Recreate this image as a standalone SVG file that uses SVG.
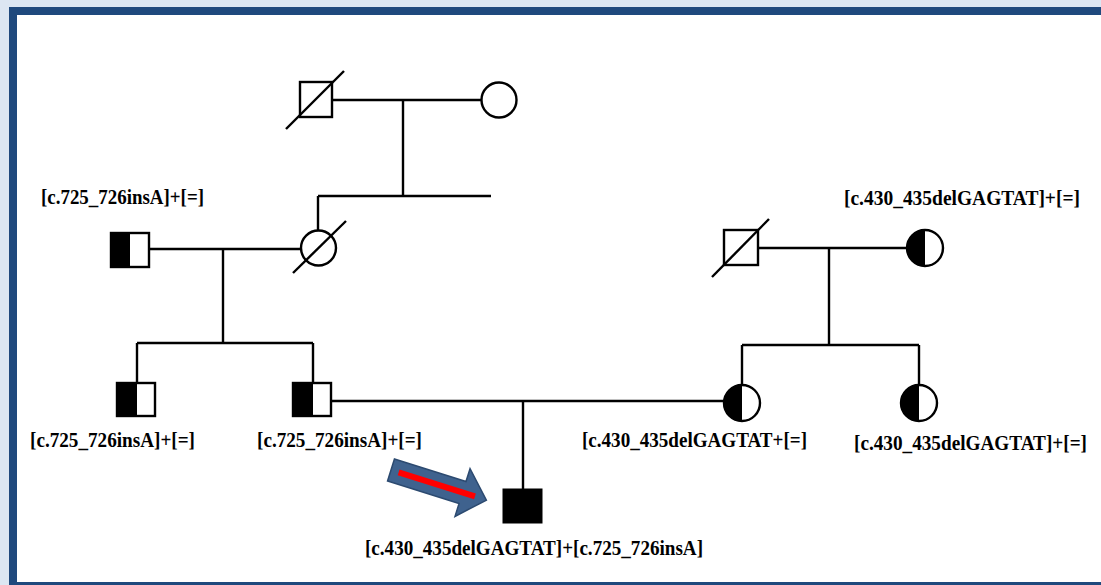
<svg xmlns="http://www.w3.org/2000/svg" width="1101" height="585" viewBox="0 0 1101 585">
<defs>
<style>
.ln{stroke:#000;stroke-width:2.4;fill:none}
.sh{stroke:#000;stroke-width:2.4;fill:#fff}
.bk{fill:#000;stroke:none}
.lb{font-family:"Liberation Serif","Times New Roman",serif;font-weight:bold;font-size:20px;fill:#000}
</style>
</defs>
<rect x="0" y="0" width="1101" height="585" fill="#dce6f2"/>
<rect x="9" y="7" width="1100" height="580" fill="#1f497d"/>
<rect x="17" y="15" width="1090" height="567" fill="#fff"/>

<g id="connectors">
<line class="ln" x1="332" y1="100" x2="481" y2="100"/>
<line class="ln" x1="403" y1="100" x2="403" y2="196"/>
<line class="ln" x1="318" y1="196" x2="491" y2="196"/>
<line class="ln" x1="318" y1="196" x2="318" y2="230"/>
<line class="ln" x1="149" y1="249" x2="301" y2="249"/>
<line class="ln" x1="223" y1="249" x2="223" y2="343"/>
<line class="ln" x1="137" y1="343" x2="313" y2="343"/>
<line class="ln" x1="137" y1="343" x2="137" y2="383"/>
<line class="ln" x1="313" y1="343" x2="313" y2="383"/>
<line class="ln" x1="331" y1="401" x2="724" y2="401"/>
<line class="ln" x1="523" y1="401" x2="523" y2="489"/>
<line class="ln" x1="758" y1="248" x2="907" y2="248"/>
<line class="ln" x1="829" y1="248" x2="829" y2="345"/>
<line class="ln" x1="742" y1="345" x2="919" y2="345"/>
<line class="ln" x1="742" y1="345" x2="742" y2="385"/>
<line class="ln" x1="919" y1="345" x2="919" y2="385"/>
</g>

<g id="grandfather-paternal">
<rect class="sh" x="300" y="82" width="32" height="35"/>
<line class="ln" x1="286" y1="129" x2="344" y2="71"/>
</g>
<g id="grandmother-paternal">
<circle class="sh" cx="499" cy="100" r="17.5"/>
</g>
<g id="mother-deceased">
<circle class="sh" cx="318.5" cy="248" r="17.5"/>
<line class="ln" x1="293" y1="273" x2="346" y2="221"/>
</g>
<g id="grandfather-carrier">
<rect class="bk" x="111" y="233" width="19" height="34"/>
<rect class="ln" x="111" y="233" width="38" height="34"/>
<text class="lb" x="41" y="204" textLength="163" lengthAdjust="spacingAndGlyphs">[c.725_726insA]+[=]</text>
</g>
<g id="uncle-carrier">
<rect class="bk" x="117" y="383" width="20" height="33"/>
<rect class="ln" x="117" y="383" width="38" height="33"/>
<text class="lb" x="30" y="447" textLength="165" lengthAdjust="spacingAndGlyphs">[c.725_726insA]+[=]</text>
</g>
<g id="father-carrier">
<rect class="bk" x="293" y="383" width="20" height="33"/>
<rect class="ln" x="293" y="383" width="38" height="33"/>
<text class="lb" x="257" y="447" textLength="165" lengthAdjust="spacingAndGlyphs">[c.725_726insA]+[=]</text>
</g>
<g id="grandfather-maternal">
<rect class="sh" x="724" y="230" width="34" height="35"/>
<line class="ln" x1="712" y1="277" x2="769" y2="219"/>
</g>
<g id="grandmother-maternal">
<circle class="sh" cx="925" cy="248" r="18"/>
<path class="bk" d="M925,230 A18,18 0 0 0 925,266 Z"/>
<text class="lb" x="844" y="205" textLength="236" lengthAdjust="spacingAndGlyphs">[c.430_435delGAGTAT]+[=]</text>
</g>
<g id="mother-carrier">
<circle class="sh" cx="742" cy="403" r="18"/>
<path class="bk" d="M742,385 A18,18 0 0 0 742,421 Z"/>
<text class="lb" x="582" y="447" textLength="225" lengthAdjust="spacingAndGlyphs">[c.430_435delGAGTAT+[=]</text>
</g>
<g id="aunt-carrier">
<circle class="sh" cx="919" cy="403" r="18"/>
<path class="bk" d="M919,385 A18,18 0 0 0 919,421 Z"/>
<text class="lb" x="854" y="450" textLength="233" lengthAdjust="spacingAndGlyphs">[c.430_435delGAGTAT]+[=]</text>
</g>
<g id="proband">
<rect x="503" y="489" width="39" height="34" fill="#000" stroke="#000" stroke-width="1"/>
<text class="lb" x="365" y="555" textLength="338" lengthAdjust="spacingAndGlyphs">[c.430_435delGAGTAT]+[c.725_726insA]</text>
</g>
<g id="proband-arrow" transform="translate(391,470) rotate(17.5)">
<polygon points="0,-11.5 75,-11.5 75,-25 100,0 75,25 75,11.5 0,11.5" fill="#3f628e" stroke="#2c4a70" stroke-width="1.5"/>
<line x1="8" y1="0" x2="88" y2="0" stroke="#ff0000" stroke-width="6"/>
</g>
</svg>
